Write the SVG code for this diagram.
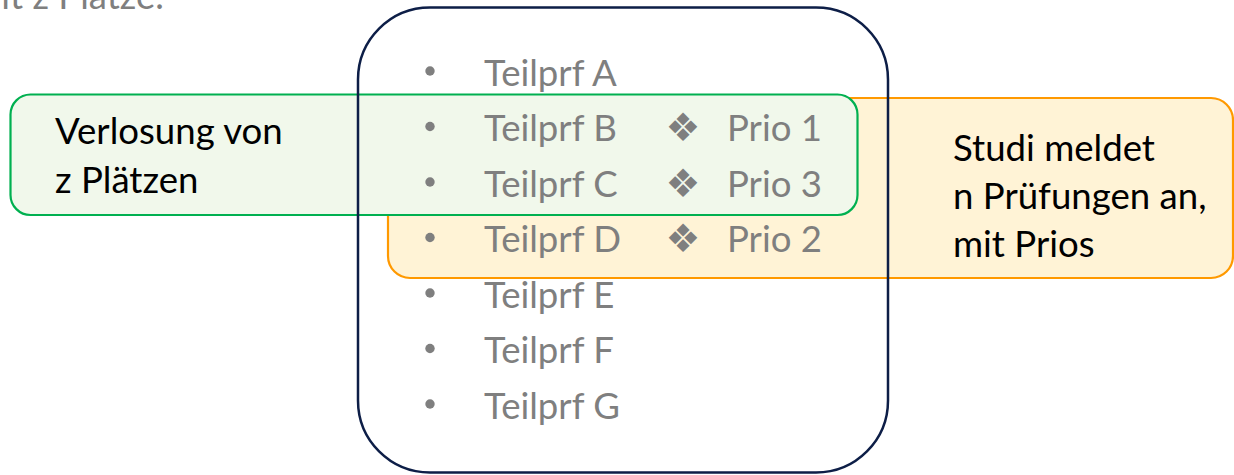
<svg xmlns="http://www.w3.org/2000/svg" width="1234" height="475" viewBox="0 0 1234 475">
<style>
.gray{font-family:Lato,"Liberation Sans",sans-serif;font-size:36.6px;fill:#7F7F7F}
.blk{font-family:Lato,"Liberation Sans",sans-serif;font-size:36.6px;fill:#000}
.dia{font-family:"DejaVu Sans",sans-serif;font-size:39px;fill:#7F7F7F;text-anchor:middle}
.bul{fill:#7F7F7F}
</style>
<rect width="1234" height="475" fill="#fff"/>
<text class="gray" x="164" y="9" text-anchor="end">mit z Plätze.</text>
<g id="studi">
<rect x="388" y="98" width="845" height="180" rx="22" fill="#FFF3D6" stroke="#FF9900" stroke-width="2.2"/>
<text class="blk" x="953" y="161">Studi meldet</text>
<text class="blk" x="953" y="209">n Prüfungen an,</text>
<text class="blk" x="953" y="257">mit Prios</text>
</g>
<g id="verlosung">
<rect x="10.5" y="94.5" width="847" height="120.5" rx="20" fill="#F1F8EB" stroke="#00B050" stroke-width="2.2"/>
<text class="blk" x="55" y="144">Verlosung von</text>
<text class="blk" x="55" y="193">z Plätzen</text>
</g>
<g id="pruefungen">
<rect x="358" y="7.5" width="530" height="465" rx="72" fill="none" stroke="#0D1E47" stroke-width="2.5"/>
<g class="bul">
<circle cx="430" cy="71" r="4.7"/>
<circle cx="430" cy="126.5" r="4.7"/>
<circle cx="430" cy="182" r="4.7"/>
<circle cx="430" cy="237.5" r="4.7"/>
<circle cx="430" cy="293" r="4.7"/>
<circle cx="430" cy="348.5" r="4.7"/>
<circle cx="430" cy="404" r="4.7"/>
</g>
<text class="gray" x="484" y="85.5">Teilprf A</text>
<text class="gray" x="484" y="141">Teilprf B</text>
<text class="gray" x="484" y="196.5">Teilprf C</text>
<text class="gray" x="484" y="252">Teilprf D</text>
<text class="gray" x="484" y="307.5">Teilprf E</text>
<text class="gray" x="484" y="363">Teilprf F</text>
<text class="gray" x="484" y="418.5">Teilprf G</text>
<text class="dia" x="683" y="141">❖</text>
<text class="dia" x="683" y="196.5">❖</text>
<text class="dia" x="683" y="252">❖</text>
<text class="gray" x="727" y="141">Prio 1</text>
<text class="gray" x="727" y="196.5">Prio 3</text>
<text class="gray" x="727" y="252">Prio 2</text>
</g>
</svg>
